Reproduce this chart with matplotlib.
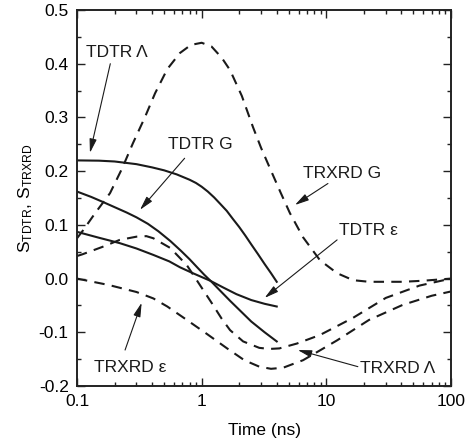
import matplotlib
matplotlib.use("Agg")
import matplotlib.pyplot as plt
from matplotlib.ticker import MultipleLocator, FormatStrFormatter, LogLocator, NullFormatter

plt.rcParams['font.family'] = ['Liberation Sans', 'DejaVu Sans']
plt.rcParams['mathtext.fontset'] = 'custom'
plt.rcParams['mathtext.rm'] = 'Liberation Sans'
plt.rcParams['mathtext.it'] = 'Liberation Sans'

# valores (tempo em ns)
t_tdtr_lam = [0.1, 0.15, 0.2, 0.3, 0.4, 0.5, 0.63, 0.8, 0.9, 1.0, 1.12, 1.26, 1.41, 1.59, 1.78, 2.0,
              2.24, 2.51, 2.82, 3.2, 3.6, 4.0]
s_tdtr_lam = [0.220, 0.2195, 0.218, 0.213, 0.207, 0.2015, 0.194, 0.184, 0.178, 0.171, 0.162, 0.151, 0.139,
              0.126, 0.111, 0.096, 0.080, 0.063, 0.046, 0.027, 0.010, -0.006]

t_tdtr_g = [0.1, 0.13, 0.16, 0.2, 0.25, 0.3, 0.37, 0.45, 0.56, 0.68, 0.8, 0.92, 1.05, 1.2, 1.4, 1.7,
            2.0, 2.5, 3.2, 4.0]
s_tdtr_g = [0.162, 0.152, 0.143, 0.133, 0.123, 0.114, 0.102, 0.088, 0.070, 0.052, 0.036, 0.021, 0.007, -0.006,
            -0.022, -0.042, -0.058, -0.080, -0.100, -0.117]

t_tdtr_eps = [0.1, 0.15, 0.22, 0.30, 0.41, 0.55, 0.67, 0.85, 1.17, 1.5, 1.9, 2.5, 3.2, 4.0]
s_tdtr_eps = [0.087, 0.076, 0.066, 0.056, 0.044, 0.032, 0.021, 0.010, -0.004, -0.017, -0.029, -0.040, -0.047, -0.052]

t_trxrd_g = [0.1, 0.112, 0.14, 0.184, 0.23, 0.281, 0.35, 0.423, 0.53, 0.67, 0.82, 1.0, 1.2, 1.45,
             1.69, 2.1, 2.58, 3.0, 3.66, 4.3, 5.1, 6.5, 8.9, 12.2, 16.4, 22, 30, 41, 60, 100]
s_trxrd_g = [0.075, 0.090, 0.122, 0.159, 0.205, 0.252, 0.300, 0.345, 0.390, 0.420, 0.435, 0.439, 0.432, 0.411,
             0.388, 0.340, 0.282, 0.243, 0.197, 0.160, 0.122, 0.077, 0.034, 0.010, -0.003, -0.006, -0.006, -0.006, -0.004, 0.0]

t_trxrd_lam = [0.1, 0.11, 0.16, 0.22, 0.30, 0.36, 0.41, 0.56, 0.76, 0.85, 1.0, 1.2, 1.45, 1.69, 2.15,
               2.9, 3.5, 4.2, 5.8, 8.9, 16.4, 30, 56, 100]
s_trxrd_lam = [0.042, 0.045, 0.059, 0.072, 0.078, 0.079, 0.075, 0.057, 0.025, 0.008, -0.017, -0.045, -0.075, -0.096, -0.117,
               -0.129, -0.131, -0.130, -0.121, -0.105, -0.073, -0.036, -0.013, 0.0]

t_trxrd_eps = [0.1, 0.11, 0.18, 0.30, 0.41, 0.53, 0.76, 1.1, 1.6, 2.2, 2.9, 3.6, 4.5, 6.5, 9, 12.2, 22, 41, 70, 100]
s_trxrd_eps = [0.000, -0.002, -0.012, -0.025, -0.037, -0.052, -0.077, -0.103, -0.130, -0.152, -0.164, -0.168, -0.166,
               -0.152, -0.133, -0.115, -0.077, -0.049, -0.032, -0.024]

xticks = [0.1, 1, 10, 100]
xticklabels = ['0.1', '1', '10', '100']

fig = plt.figure(figsize=(4.73, 4.45), dpi=100)
ax = fig.add_axes([77 / 473, 59 / 445, 374 / 473, 376 / 445])

lw = 1.5
tracejado = (0, (5, 3.5))
ax.plot(t_tdtr_lam, s_tdtr_lam, color='#1a1a1a', lw=lw)
ax.plot(t_tdtr_g, s_tdtr_g, color='#1a1a1a', lw=lw)
ax.plot(t_tdtr_eps, s_tdtr_eps, color='#1a1a1a', lw=lw)
ax.plot(t_trxrd_g, s_trxrd_g, color='#1a1a1a', lw=lw, linestyle=tracejado)
ax.plot(t_trxrd_lam, s_trxrd_lam, color='#1a1a1a', lw=lw, linestyle=tracejado)
ax.plot(t_trxrd_eps, s_trxrd_eps, color='#1a1a1a', lw=lw, linestyle=tracejado)

ax.set_xscale('log')
ax.set_xlim(0.1, 100)
ax.set_ylim(-0.2, 0.5)
ax.set_xticks(xticks, labels=xticklabels)
ax.xaxis.set_minor_locator(LogLocator(base=10, subs=range(2, 10)))
ax.xaxis.set_minor_formatter(NullFormatter())
ax.yaxis.set_major_locator(MultipleLocator(0.1))
ax.yaxis.set_minor_locator(MultipleLocator(0.05))
ax.yaxis.set_major_formatter(FormatStrFormatter('%.1f'))

ax.tick_params(which='both', direction='in', top=True, right=True, labelsize=12.5, width=1.0, color='#222222')
ax.tick_params(which='major', length=6, pad=6)
ax.tick_params(which='minor', length=3)
for sp in ax.spines.values():
    sp.set_linewidth(1.4)
    sp.set_color('#222222')

ax.set_xlabel('Time (ns)', fontsize=12.5, labelpad=10)
ax.set_ylabel(r'S$_{\mathrm{TDTR}}$, S$_{\mathrm{TRXRD}}$', fontsize=12.5, labelpad=3)

# rótulos e setas
seta = dict(arrowstyle='-|>,head_length=0.7,head_width=0.18', lw=0.8, color='#1a1a1a',
            mutation_scale=12, shrinkA=0, shrinkB=0)
anotacoes = [
    ('TDTR Λ', (0.21, 0.42), (0.185, 0.40), (0.127, 0.234)),
    ('TDTR G', (0.97, 0.249), (0.73, 0.224), (0.32, 0.128)),
    ('TRXRD G', (13.3, 0.196), (10.3, 0.177), (5.6, 0.137)),
    ('TDTR ε', (21.6, 0.09), (12.2, 0.072), (3.2, -0.036)),
    ('TRXRD Λ', (37.5, -0.167), (17.9, -0.164), (5.9, -0.133)),
    ('TRXRD ε', (0.266, -0.165), (0.243, -0.133), (0.33, -0.045)),
]
for texto, pos, cauda, ponta in anotacoes:
    ax.text(pos[0], pos[1], texto, fontsize=12.5, ha='center', va='center', color='#1a1a1a')
    ax.annotate('', xy=ponta, xytext=cauda, arrowprops=seta)

fig.savefig('out.png', dpi=100)
